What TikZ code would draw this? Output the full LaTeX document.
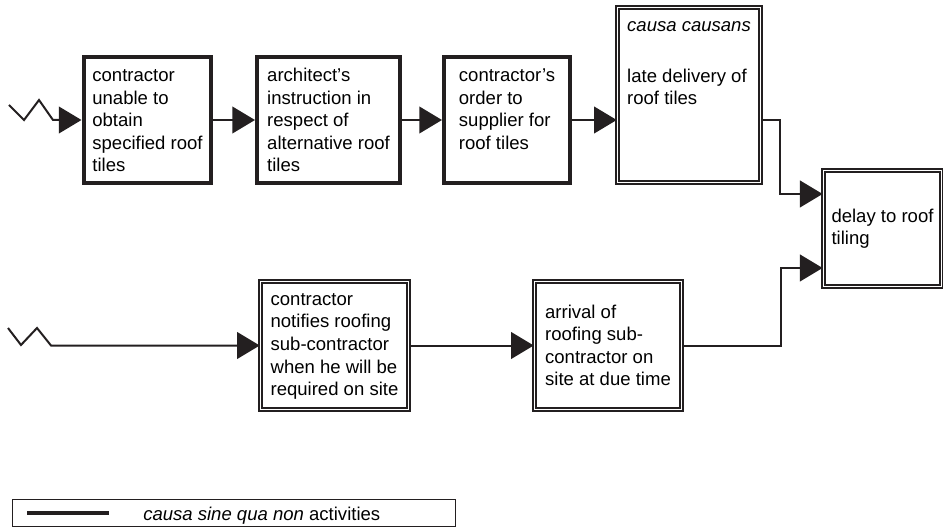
\documentclass[tikz,border=0pt]{standalone}
\usepackage{fontspec}
\setmainfont{Liberation Sans}
\usetikzlibrary{arrows.meta}
\definecolor{ink}{RGB}{35,31,32}
% lines of a box, kept at the top of a fixed height
\newcommand{\cell}[2]{\vbox to #1{\hbox{\begin{tabular}{@{}l@{}}#2\end{tabular}}\vss}}
\tikzset{
  csqn/.style   = {rectangle, draw=ink, line width=3.3pt, inner sep=6.5pt,
                   minimum height=94.2pt},
  cause/.style  = {rectangle, draw=ink, double, double distance=1.2pt,
                   line width=1.35pt, inner sep=6pt},
  link/.style   = {-{Triangle[length=17pt,width=20pt]}, draw=ink,
                   line width=1.5pt},
  keybox/.style = {rectangle, draw=ink, line width=1pt},
  keyline/.style= {draw=ink, line width=3.5pt},
}
\begin{document}
\begin{tikzpicture}[x=0.75pt, y=-0.75pt, font=\fontsize{13.9}{16.9}\selectfont]
  \useasboundingbox (0,0) rectangle (943,528);

  %--- causa sine qua non chain (top row) ----------------------------------
  \node[csqn, minimum width=93.45pt] at (147.5,120) (unable)
        {\cell{81.2pt}{contractor\\unable to\\obtain\\specified roof\\tiles}};
  \node[csqn, minimum width=106.95pt] at (328.5,120) (instruct)
        {\cell{81.2pt}{architect's\\instruction in\\respect of\\alternative roof\\tiles}};
  \node[csqn, minimum width=94.2pt] at (507,120) (order)
        {\cell{81.2pt}{contractor's\\order to\\supplier for\\roof tiles}};

  %--- causa causans ---------------------------------------------------------
  \node[cause, minimum width=107pt, minimum height=131pt] at (689,95) (late)
        {\cell{119pt}{\textit{causa causans}\\[21.3pt]late delivery of\\roof tiles}};

  %--- result ------------------------------------------------------------------
  \node[cause, align=left, minimum width=83.8pt, minimum height=86.8pt]
        at (882.5,228.5) (delay) {delay to roof\\tiling};

  %--- bottom row --------------------------------------------------------------
  \node[cause, minimum width=110.8pt, minimum height=95.8pt] at (334.5,345.5) (notify)
        {\cell{83.8pt}{contractor\\notifies roofing\\sub-contractor\\when he will be\\required on site}};
  \node[cause, align=left, minimum width=110pt, minimum height=95.8pt]
        at (608,345.5) (arrival)
        {arrival of\\roofing sub-\\contractor on\\site at due time};

  %--- Edges -------------------------------------------------------------------
  \coordinate (startA) at (9,105);
  \coordinate (startB) at (8,328);
  \draw[link] (startA) -- ++(15,15) -- ++(15,-20) -- ++(14,20) -- (unable);
  \draw[link] (unable) -- (instruct);
  \draw[link] (instruct) -- (order);
  \draw[link] (order.east) -- (order.east -| late.west);
  \draw[link] (order.east -| late.east) -- ++(19,0) |- ([yshift=25.9pt]delay.west);

  \draw[link] (startB) -- ++(13,17) -- ++(16,-17) -- ++(14,17.5) -- (notify);
  \draw[link] (notify) -- (arrival);
  \draw[link] (arrival.east) -- ++(99,0) |- ([yshift=-29.6pt]delay.west);

  %--- Key ---------------------------------------------------------------------
  \node[keybox, minimum width=332pt, minimum height=20pt] at (234,513) (legend) {};
  \draw[keyline] ([xshift=11.25pt]legend.west) -- ++(82,0);
  \node[anchor=base west, inner sep=0pt] at (143,520) (legendtext)
        {\textit{causa sine qua non} activities};
\end{tikzpicture}
\end{document}
